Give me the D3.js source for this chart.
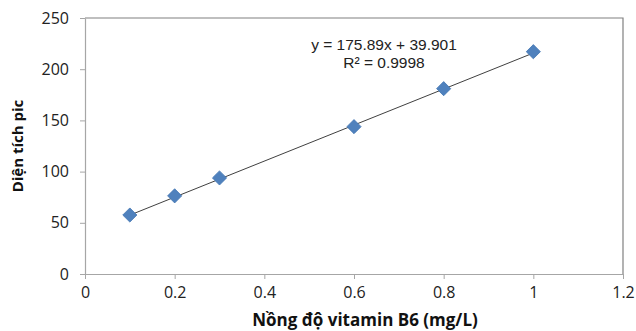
<!DOCTYPE html>
<html>
<head>
<meta charset="utf-8">
<script src="https://cdn.jsdelivr.net/npm/d3@7"></script>
<style>
  body { margin: 0; background: #fff; }
  svg text { font-family: "Open Sans", "Liberation Sans", sans-serif; }
</style>
</head>
<body>
<figure id="chart" style="margin:0"></figure>
<script>
// data
const concentrations = [0.1, 0.2, 0.3, 0.6, 0.8, 1.0];
const peakAreas = [57.6, 76.3, 93.8, 143.9, 181.0, 217.1];
const xTicks = [0, 0.2, 0.4, 0.6, 0.8, 1, 1.2];
const yTicks = [0, 50, 100, 150, 200, 250];
const slope = 175.89;
const intercept = 39.901;
const equationText = "y = 175.89x + 39.901";
const r2Text = "R² = 0.9998";

const width = 636, height = 331;
const margin = { top: 18, right: 13, bottom: 57, left: 85 };

const svg = d3.select("figure#chart")
  .append("svg")
  .attr("width", width)
  .attr("height", height);

const x = d3.scaleLinear().domain([0, 1.2]).range([margin.left, width - margin.right]);
const y = d3.scaleLinear().domain([0, 250]).range([height - margin.bottom, margin.top]);

// plot area border (top/right darker)
svg.append("path")
  .attr("d", `M${x(0)},${y(250)}H${x(1.2)}V${y(0)}`)
  .attr("fill", "none")
  .attr("stroke", "#808080")
  .attr("stroke-width", 1.2);

const yAxis = g => g
  .attr("transform", `translate(${x(0)},0)`)
  .call(d3.axisLeft(y).tickValues(yTicks).tickSize(5).tickPadding(11).tickSizeOuter(0))
  .call(g => g.select(".domain").attr("stroke", "#a6a6a6").attr("stroke-width", 1.2))
  .call(g => g.selectAll(".tick line").attr("stroke", "#a6a6a6"))
  .call(g => g.selectAll(".tick text").attr("font-size", 16).attr("fill", "#222"));

const xAxis = g => g
  .attr("transform", `translate(0,${y(0)})`)
  .call(d3.axisBottom(x).tickValues(xTicks).tickFormat(d3.format("~g")).tickSize(5).tickPadding(8).tickSizeOuter(0))
  .call(g => g.select(".domain").attr("stroke", "#a6a6a6").attr("stroke-width", 1.2))
  .call(g => g.selectAll(".tick line").attr("stroke", "#a6a6a6"))
  .call(g => g.selectAll(".tick text").attr("font-size", 16).attr("fill", "#222"));

svg.append("g").call(xAxis);
svg.append("g").call(yAxis);

// trendline over data range
const xMin = d3.min(concentrations), xMax = d3.max(concentrations);
svg.append("line")
  .attr("x1", x(xMin)).attr("y1", y(slope * xMin + intercept))
  .attr("x2", x(xMax)).attr("y2", y(slope * xMax + intercept))
  .attr("stroke", "#404040")
  .attr("stroke-width", 1);

// diamond markers
const diamond = d3.symbol().type(d3.symbolSquare).size(100);
svg.append("g")
  .selectAll("path")
  .data(concentrations.map((c, i) => [c, peakAreas[i]]))
  .join("path")
  .attr("d", diamond)
  .attr("transform", d => `translate(${x(d[0])},${y(d[1])}) rotate(45)`)
  .attr("fill", "#4f81bd")
  .attr("stroke", "#4577b3")
  .attr("stroke-width", 0.8);

// equation (tighter font so the two lines sit close like the reference)
svg.append("text")
  .attr("x", 384).attr("y", 50)
  .attr("text-anchor", "middle")
  .style("font-family", "'Liberation Sans', Arial, sans-serif")
  .attr("font-size", 15.5)
  .attr("fill", "#222")
  .text(equationText);
svg.append("text")
  .attr("x", 384).attr("y", 68)
  .attr("text-anchor", "middle")
  .style("font-family", "'Liberation Sans', Arial, sans-serif")
  .attr("font-size", 15.5)
  .attr("fill", "#222")
  .text(r2Text);

// axis titles
svg.append("text")
  .attr("transform", `translate(23,${(y(0) + y(250)) / 2}) rotate(-90)`)
  .attr("text-anchor", "middle")
  .attr("font-size", 15)
  .attr("font-weight", "bold")
  .attr("fill", "#111")
  .text("Diện tích pic");

svg.append("text")
  .attr("x", 365).attr("y", 326)
  .attr("text-anchor", "middle")
  .attr("font-size", 17)
  .attr("font-weight", "bold")
  .attr("fill", "#111")
  .text("Nồng độ vitamin B6 (mg/L)");
</script>
</body>
</html>
